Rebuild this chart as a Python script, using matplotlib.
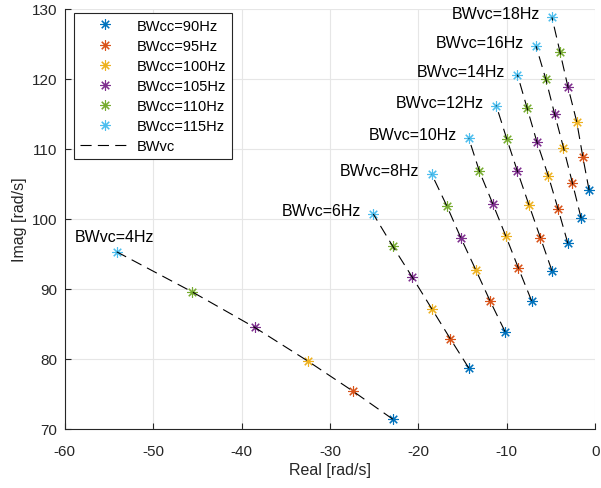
import numpy as np
import matplotlib
matplotlib.use("Agg")
import matplotlib.pyplot as plt

plt.rcParams['font.family'] = ['Liberation Sans', 'DejaVu Sans']
plt.rcParams['lines.scale_dashes'] = False
plt.rcParams['axes.unicode_minus'] = False

bwvc = [4, 6, 8, 10, 12, 14, 16, 18]
bwcc = [90, 95, 100, 105, 110, 115]

# real / imag part of the pole, one list per BWcc, ordered by bwvc
re_90 = [-22.9, -14.3, -10.2, -7.2, -4.9, -3.1, -1.6, -0.7]
im_90 = [71.4, 78.7, 83.9, 88.3, 92.6, 96.5, 100.1, 104.1]
re_95 = [-27.4, -16.4, -11.9, -8.7, -6.2, -4.2, -2.6, -1.4]
im_95 = [75.4, 82.9, 88.3, 93.0, 97.3, 101.4, 105.2, 108.8]
re_100 = [-32.5, -18.5, -13.5, -10.1, -7.5, -5.3, -3.6, -2.1]
im_100 = [79.7, 87.2, 92.7, 97.5, 102.0, 106.1, 110.2, 113.9]
re_105 = [-38.5, -20.7, -15.2, -11.6, -8.8, -6.6, -4.6, -3.1]
im_105 = [84.5, 91.7, 97.3, 102.2, 106.8, 111.0, 115.0, 118.9]
re_110 = [-45.6, -22.9, -16.8, -13.1, -10.0, -7.7, -5.6, -4.0]
im_110 = [89.6, 96.1, 101.9, 106.8, 111.4, 115.8, 120.0, 123.9]
re_115 = [-54.1, -25.1, -18.5, -14.3, -11.2, -8.8, -6.7, -4.9]
im_115 = [95.3, 100.7, 106.4, 111.5, 116.2, 120.6, 124.7, 128.8]

re_all = np.array([re_90, re_95, re_100, re_105, re_110, re_115])
im_all = np.array([im_90, im_95, im_100, im_105, im_110, im_115])

colors = ['#0072BD', '#D95319', '#EDB120', '#7E2F8E', '#77AC30', '#4DBEEE']

fig = plt.figure(figsize=(6.01, 4.89), dpi=100)
ax = fig.add_axes([0.1075, 0.1207, 0.883, 0.859])

for i, cc in enumerate(bwcc):
    ax.plot(re_all[i], im_all[i], linestyle='none', marker=(8, 2, 0),
            markersize=7.5, markeredgewidth=0.8, color=colors[i],
            label='BWcc=%dHz' % cc, zorder=3)

for j, vc in enumerate(bwvc):
    ln, = ax.plot(re_all[:, j], im_all[:, j], color='k', lw=0.8,
                  linestyle='--', zorder=4,
                  label='BWvc' if j == 0 else None)
    ln.set_dashes((8, 4.5))
    if vc == 4:
        ax.text(re_all[-1, j] - 4.8, im_all[-1, j] + 2.2, 'BWvc=%dHz' % vc,
                ha='left', va='center', fontsize=11.5)
    else:
        ax.text(re_all[-1, j] - 1.4, im_all[-1, j] + 0.5, 'BWvc=%dHz' % vc,
                ha='right', va='center', fontsize=11.5)

ax.set_xlim(-60, 0)
ax.set_ylim(70, 130)
ax.set_xticks(np.arange(-60, 1, 10))
ax.set_yticks(np.arange(70, 131, 10))
ax.grid(True, color='#e6e6e6', lw=0.8)
ax.set_axisbelow(True)
for s in ['top', 'right']:
    ax.spines[s].set_visible(False)
for s in ['left', 'bottom']:
    ax.spines[s].set_color('#262626')
    ax.spines[s].set_linewidth(0.8)
ax.tick_params(direction='in', length=4, width=0.8, colors='#262626',
               labelsize=11, labelcolor='#262626')
ax.tick_params(axis='x', pad=10.5)
ax.tick_params(axis='y', pad=5.5)
ax.set_xlabel('Real [rad/s]', fontsize=11.5, color='#262626', labelpad=3)
ax.set_ylabel('Imag [rad/s]', fontsize=11.5, color='#262626', labelpad=3)

leg = ax.legend(loc='upper left', bbox_to_anchor=(0.018, 0.991),
                borderaxespad=0, fontsize=10.5, fancybox=False,
                edgecolor='#262626', framealpha=1, handlelength=3.4,
                handletextpad=0.5, borderpad=0.4, labelspacing=0.42)
leg.get_frame().set_linewidth(0.8)

fig.savefig('out.png', dpi=100)
